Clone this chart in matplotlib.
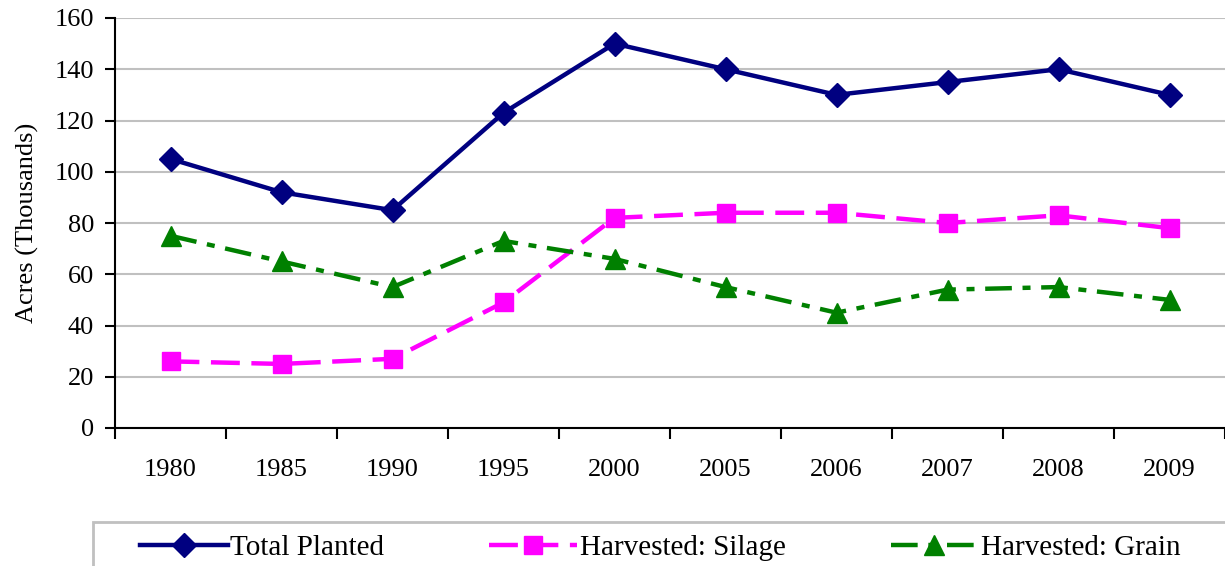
import matplotlib.pyplot as plt
from matplotlib.patches import Rectangle

plt.rcParams['font.family'] = ['Liberation Serif', 'DejaVu Serif']

years = ['1980', '1985', '1990', '1995', '2000', '2005', '2006', '2007', '2008', '2009']
total_planted = [105, 92, 85, 123, 150, 140, 130, 135, 140, 130]
silage = [26, 25, 27, 49, 82, 84, 84, 80, 83, 78]
grain = [75, 65, 55, 73, 66, 55, 45, 54, 55, 50]

fig = plt.figure(figsize=(12.25, 5.66), dpi=100)
ax = fig.add_axes([115 / 1225, 138 / 566, 1 - 115 / 1225, 410 / 566])

x = range(len(years))
ax.plot(x, total_planted, color='#000080', lw=3.2, marker='D', ms=12,
        label='Total Planted')
ax.plot(x, silage, color='#ff00ff', lw=3.2, marker='s', ms=13,
        dashes=(6.5, 2.6), label='Harvested: Silage')
ax.plot(x, grain, color='#008000', lw=3.2, marker='^', ms=14,
        dashes=(6, 2.4, 1.8, 2.4), label='Harvested: Grain')

ax.set_xlim(-0.5, len(years) - 0.5)
ax.set_ylim(0, 160)
ax.set_yticks(range(0, 161, 20))
ax.set_xticks([i - 0.5 for i in range(len(years) + 1)])
ax.set_xticklabels([])
ax.set_xticks(list(x), minor=True)
ax.set_xticklabels(years, minor=True)
ax.tick_params(axis='x', which='minor', length=0, pad=22, labelsize=19)
ax.tick_params(axis='x', which='major', length=8, width=1.5, direction='out')
ax.tick_params(axis='y', length=7, width=1.5, labelsize=19, pad=8)

ax.grid(axis='y', color='#c0c0c0', lw=1.5)
ax.set_axisbelow(True)
for s in ['top', 'right']:
    ax.spines[s].set_visible(False)
ax.spines['left'].set_linewidth(1.5)
ax.spines['bottom'].set_linewidth(1.5)
ax.set_ylabel('Acres (Thousands)', fontsize=19, labelpad=11)

# legend box at the bottom, running off the right edge
fig.patches.append(Rectangle((93 / 1225, -0.05), 1.0, (566 - 522) / 566 + 0.05,
                             transform=fig.transFigure, fill=False,
                             edgecolor='#c0c0c0', lw=2))
fig.legend(loc='center left', ncol=3, bbox_to_anchor=(140 / 1225, 1 - 548 / 566),
           fontsize=21, frameon=False, handlelength=3.0, handletextpad=0.1,
           columnspacing=3.6, borderpad=0, borderaxespad=0)

fig.savefig('out.png', dpi=100)
